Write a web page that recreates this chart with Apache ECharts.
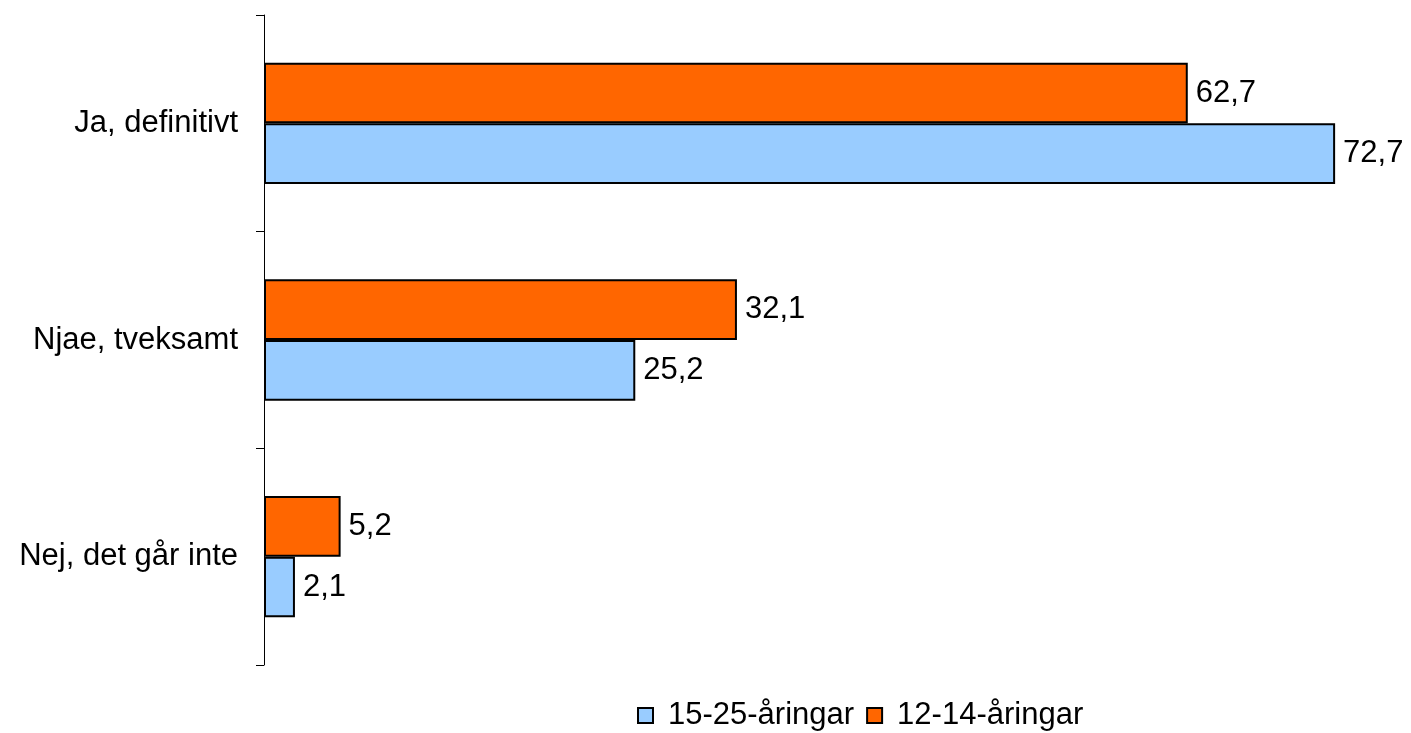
<!DOCTYPE html>
<html>
<head>
<meta charset="utf-8">
<script src="https://cdn.jsdelivr.net/npm/echarts@6/dist/echarts.min.js"></script>
<style>
  html, body { margin: 0; padding: 0; background: #fff; }
  #chart { width: 1411px; height: 733px; }
</style>
</head>
<body>
<div id="chart"></div>
<script>
// categories listed bottom to top (ECharts puts the first one at the bottom)
const categories = ['Nej, det går inte', 'Njae, tveksamt', 'Ja, definitivt'];
const seriesNames = ['15-25-åringar', '12-14-åringar'];
const values1525 = [2.1, 25.2, 72.7];
const values1214 = [5.2, 32.1, 62.7];

const FONT = '"Liberation Sans", Arial, sans-serif';

const chart = echarts.init(document.getElementById('chart'));

const fmt = (p) => p.value.toFixed(1).replace('.', ',');

const barSeries = (name, data, color) => ({
    name: name,
    type: 'bar',
    data: data,
    barGap: '0%',
    barCategoryGap: '44%',
    itemStyle: {
        color: color,
        borderColor: '#000',
        borderWidth: 2
    },
    label: {
        show: true,
        position: 'right',
        distance: 8,
        formatter: fmt,
        color: '#000',
        fontSize: 31,
        fontFamily: FONT
    },
    emphasis: { disabled: true }
});

chart.setOption({
    backgroundColor: '#fff',
    animation: false,
    grid: {
        left: 264,
        top: 15,
        bottom: 68,
        right: 42
    },
    xAxis: {
        type: 'value',
        min: 0,
        max: 75,
        show: false
    },
    yAxis: {
        type: 'category',
        data: categories,
        axisLine: { show: true, lineStyle: { color: '#000', width: 1 } },
        axisTick: { show: true, length: 8, lineStyle: { color: '#000' } },
        axisLabel: {
            color: '#000',
            fontSize: 31,
            fontFamily: FONT,
            margin: 26
        },
        splitLine: { show: false }
    },
    legend: {
        data: seriesNames,
        left: 632,
        top: 695,
        icon: 'rect',
        itemWidth: 15,
        itemHeight: 15,
        itemGap: 12,
        itemStyle: { borderColor: '#000', borderWidth: 2 },
        textStyle: {
            color: '#000',
            fontSize: 31,
            fontFamily: FONT,
            padding: [0, 0, 0, 10]
        }
    },
    // orange first so it sits above the blue bar in each band
    series: [
        barSeries(seriesNames[1], values1214, '#FF6600'),
        barSeries(seriesNames[0], values1525, '#99CCFF')
    ]
});
</script>
</body>
</html>
